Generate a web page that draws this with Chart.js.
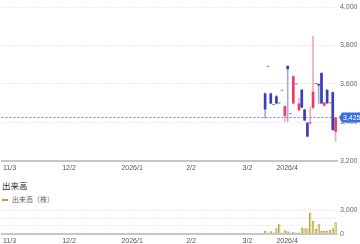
<!DOCTYPE html>
<html>
<head>
<meta charset="utf-8">
<script src="https://cdn.jsdelivr.net/npm/chart.js@4.4.1/dist/chart.umd.min.js"></script>
<style>
  body { margin: 0; background: #fff; width: 360px; height: 244px; overflow: hidden; position: relative; }
  #priceBox { position: absolute; left: 0; top: 0; width: 360px; height: 175px; }
  #volBox { position: absolute; left: 0; top: 203px; width: 360px; height: 45px; }
  #volTitle { position: absolute; left: 2px; top: 179px; font: 8.5px "Noto Sans CJK JP", sans-serif; color: #333; }
  #volLegend { position: absolute; left: 2px; top: 194px; font: 7px "Noto Sans CJK JP", sans-serif; color: #666; }
  #volLegend span { display: inline-block; width: 6px; height: 2px; background: #b3a32e; vertical-align: middle; margin-right: 4px; }
</style>
</head>
<body>
<div id="priceBox"><canvas id="priceCanvas"></canvas></div>
<div id="volTitle">出来高</div>
<div id="volLegend"><span></span>出来高（株）</div>
<div id="volBox"><canvas id="volCanvas"></canvas></div>
<script>
// trading-day slots on the x axis, data fills the last ones
const slotCount = 119;
const firstSlot = 93;
const tickSlots = [0, 21, 42, 65, 85, 97];
const tickTexts = ["11/3", "12/2", "2026/1", "2/2", "3/2", "2026/4"];

const open  = [3550, 3690, 3550, 3490, 3536, 3498, 3564, 3433, 3693, 3443, 3498, 3598, 3463, 3570, 3466, 3398, 3395, 3476, 3600, 3600, 3657, 3486, 3569, 3499, 3556, 3350];
const high  = [3555, 3690, 3552, 3490, 3540, 3498, 3564, 3485, 3695, 3443, 3642, 3598, 3524, 3572, 3468, 3400, 3480, 3848, 3600, 3602, 3659, 3504, 3571, 3499, 3558, 3425];
const low   = [3421, 3690, 3495, 3490, 3495, 3498, 3564, 3404, 3404, 3443, 3495, 3598, 3460, 3475, 3407, 3324, 3390, 3470, 3600, 3498, 3496, 3484, 3497, 3499, 3358, 3300];
const close = [3467, 3690, 3498, 3490, 3498, 3498, 3564, 3485, 3677, 3443, 3640, 3598, 3498, 3477, 3409, 3326, 3400, 3559, 3600, 3592, 3498, 3502, 3499, 3499, 3360, 3425];
const volume = [380, 150, 300, 150, 700, 1200, 150, 420, 300, 150, 200, 150, 150, 780, 700, 700, 2700, 1650, 600, 1200, 320, 320, 400, 500, 700, 1450];

const priceTicks = [3200, 3400, 3600, 3800, 4000];
const volTicks = [0, 3000];
const lastPrice = 3425;

const upColor = "#e8405c";
const downColor = "#3b3eb6";
const dojiColor = "#7f82d4";

Chart.defaults.font.family = "'Liberation Sans', Arial, sans-serif";
Chart.defaults.font.size = 7;
Chart.defaults.color = "#555";
Chart.defaults.animation = false;

const labels = Array.from({ length: slotCount }, (_, i) => i);
const pad = (arr) => labels.map(i => (i >= firstSlot ? arr[i - firstSlot] : null));

const bodyData = pad(open.map((o, i) => [o, close[i]]));
const wickData = pad(low.map((l, i) => [l, high[i]]));
const bodyColors = pad(open.map((o, i) => close[i] > o ? upColor : close[i] < o ? downColor : dojiColor));
const wickColors = pad(open.map((o, i) => close[i] >= o ? "#f4a6b6" : "#a7a9e3"));

function xAxis() {
  return {
    offset: true,
    grid: { display: false, drawTicks: false, tickLength: 0 },
    border: { display: true, color: "#c6c6c6", width: 2 },
    ticks: {
      autoSkip: false, maxRotation: 0, align: "start", padding: 3, color: "#555",
      callback: (v, i) => { const k = tickSlots.indexOf(i); return k >= 0 ? tickTexts[k] : ""; }
    }
  };
}

const lastPricePlugin = {
  id: "lastPrice",
  afterDatasetsDraw(chart) {
    const { ctx, chartArea, scales } = chart;
    const y = Math.round(scales.y.getPixelForValue(lastPrice)) + 0.5;
    ctx.save();
    ctx.strokeStyle = "#6a8fe2";
    ctx.lineWidth = 1;
    ctx.setLineDash([2, 2]);
    ctx.beginPath();
    ctx.moveTo(chartArea.left, y);
    ctx.lineTo(chartArea.right, y);
    ctx.stroke();
    ctx.setLineDash([]);
    const x0 = chartArea.right + 2;
    ctx.fillStyle = "#3a6fd9";
    ctx.beginPath();
    ctx.moveTo(x0, y);
    ctx.lineTo(x0 + 3, y - 5);
    ctx.lineTo(360, y - 5);
    ctx.lineTo(360, y + 5);
    ctx.lineTo(x0 + 3, y + 5);
    ctx.closePath();
    ctx.fill();
    ctx.fillStyle = "#fff";
    ctx.font = "7px 'Liberation Sans', Arial, sans-serif";
    ctx.textBaseline = "middle";
    ctx.fillText(lastPrice.toLocaleString("en-US"), x0 + 4, y + 0.5);
    ctx.restore();
  }
};

new Chart(document.getElementById("priceCanvas"), {
  type: "bar",
  data: {
    labels: labels,
    datasets: [
      {
        label: "body", data: bodyData, grouped: false,
        backgroundColor: bodyColors, barPercentage: 0.95, categoryPercentage: 1, minBarLength: 1
      },
      {
        label: "wick", data: wickData, grouped: false,
        backgroundColor: wickColors, barThickness: 1
      }
    ]
  },
  options: {
    responsive: true, maintainAspectRatio: false,
    layout: { padding: { top: 0, left: 0, right: 0 } },
    plugins: { legend: { display: false }, tooltip: { enabled: false } },
    scales: {
      x: xAxis(),
      y: {
        position: "right", min: 3200, max: 4000,
        afterBuildTicks: s => { s.ticks = priceTicks.map(v => ({ value: v })); },
        afterFit: s => { s.width = 23; },
        grid: { color: "#d8d8d8", drawTicks: false, tickLength: 0 },
        border: { display: false, dash: [1, 2] },
        ticks: { autoSkip: false, padding: 3, color: "#666", callback: v => v.toLocaleString("en-US") }
      }
    }
  },
  plugins: [lastPricePlugin]
});

new Chart(document.getElementById("volCanvas"), {
  type: "bar",
  data: {
    labels: labels,
    datasets: [{
      label: "出来高（株）", data: pad(volume),
      backgroundColor: "#f2edbf", borderColor: "#b3a32e", borderWidth: 1,
      barPercentage: 0.85, categoryPercentage: 1
    }]
  },
  options: {
    responsive: true, maintainAspectRatio: false,
    layout: { padding: { top: 0, left: 0, right: 0 } },
    plugins: { legend: { display: false }, tooltip: { enabled: false } },
    scales: {
      x: xAxis(),
      y: {
        position: "right", min: 0, max: 3000,
        ticks: { autoSkip: false, stepSize: 1000, padding: 3, color: "#666",
          callback: v => volTicks.includes(v) ? v.toLocaleString("en-US") : "" },
        afterFit: s => { s.width = 23; },
        grid: { color: "#d8d8d8", drawTicks: false, tickLength: 0 },
        border: { display: false, dash: [1, 2] }
      }
    }
  }
});
</script>
</body>
</html>
